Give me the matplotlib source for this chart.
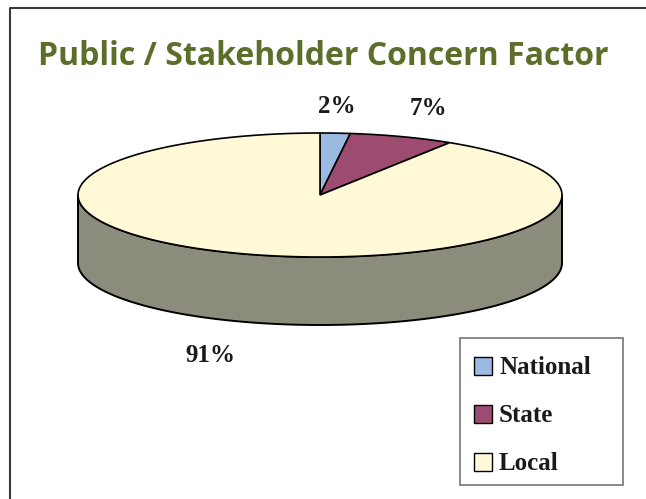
import numpy as np
import matplotlib.pyplot as plt
from matplotlib.patches import Polygon, Rectangle

# Data
labels = ["National", "State", "Local"]
values = [2, 7, 91]
pct_labels = ["2%", "7%", "91%"]
colors = ["#9bbae2", "#9e4b72", "#fff9d8"]
side_color = "#8c8c7d"

# pie geometry (pixel space)
cx, cy = 320, 195
rx, ry = 242, 62
depth = 68


def ellipse_pts(a0, a1, dy=0, n=200):
    t = np.radians(np.linspace(a0, a1, n))
    return np.column_stack([cx + rx * np.cos(t), cy - ry * np.sin(t) + dy])


fig = plt.figure(figsize=(6.46, 4.99), dpi=100)
ax = fig.add_axes([0, 0, 1, 1])
ax.set_xlim(0, 646)
ax.set_ylim(499, 0)
ax.axis("off")

# outer frame (left and top edges only)
ax.plot([10, 10, 646], [499, 8, 8], color="#3a3a3a", lw=1.5)

# side wall (front half)
top_front = ellipse_pts(180, 360)
bot_front = ellipse_pts(360, 180, dy=depth)
ax.add_patch(Polygon(np.vstack([top_front, bot_front]), closed=True,
                     facecolor=side_color, edgecolor="black", lw=1.4))

# top wedges, clockwise from 12 o'clock
start = 90.0
for v, c in zip(values, colors):
    end = start - v / sum(values) * 360
    pts = np.vstack([[cx, cy], ellipse_pts(start, end)])
    ax.add_patch(Polygon(pts, closed=True, facecolor=c, edgecolor="black", lw=1.2))
    start = end

# percentage labels
label_pos = [(337, 106), (428, 108), (210, 355)]
for txt, (x, y) in zip(pct_labels, label_pos):
    ax.text(x, y, txt, ha="center", va="center", fontsize=18, fontweight="bold",
            family="Liberation Serif", color="#1a1a1a")

ax.text(323, 56, "Public / Stakeholder Concern Factor", ha="center", va="center",
        fontsize=23, fontweight="bold", family="Open Sans", color="#5b6f2b")

# legend box
ax.add_patch(Rectangle((460, 338), 163, 147, facecolor="white",
                       edgecolor="#808080", lw=1.3))
row_y = [366, 414, 462]
for lab, c, y in zip(labels, colors, row_y):
    ax.add_patch(Rectangle((474, y - 9), 18, 18, facecolor=c, edgecolor="black", lw=1))
    ax.text(499, y + 1, lab, ha="left", va="center", fontsize=18, fontweight="bold",
            family="Liberation Serif", color="#1a1a1a")

fig.savefig("out.png", dpi=100)
